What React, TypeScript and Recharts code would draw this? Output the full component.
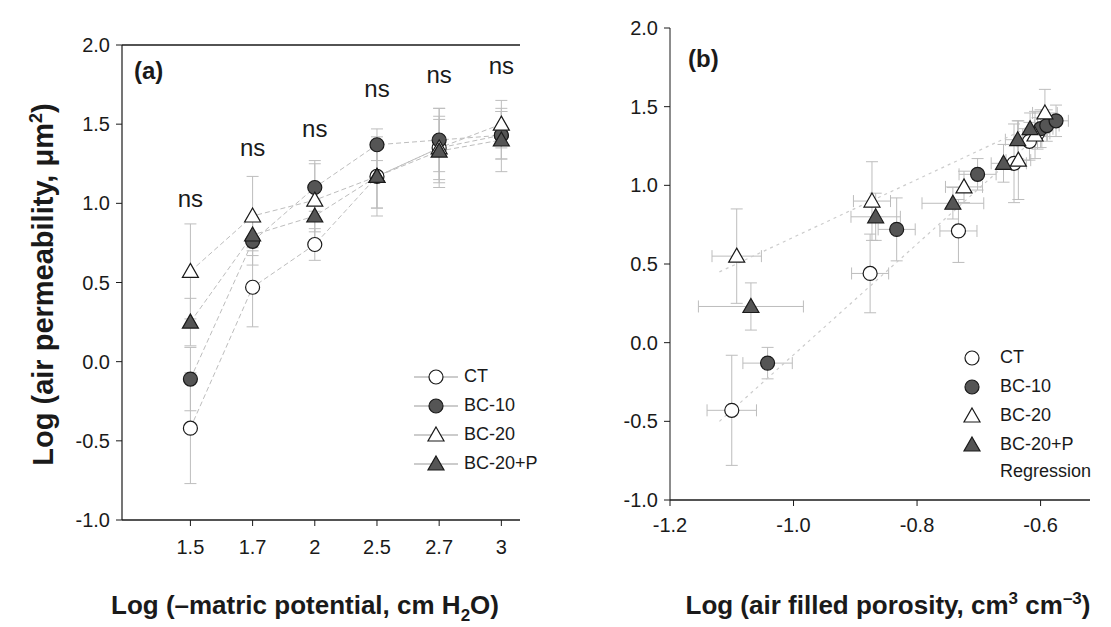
import React from 'react';
import {
  LineChart, Line, ScatterChart, Scatter, XAxis, YAxis, ErrorBar, Legend, ReferenceLine,
} from 'recharts';

// panel (a): air permeability vs matric potential
const potentialLabels = ['1.5', '1.7', '2', '2.5', '2.7', '3'];
const ctA = [-0.42, 0.47, 0.74, 1.17, 1.35, 1.43];
const bc10A = [-0.11, 0.76, 1.1, 1.37, 1.4, 1.43];
const bc20A = [0.57, 0.92, 1.02, 1.17, 1.35, 1.5];
const bc20pA = [0.25, 0.8, 0.92, 1.17, 1.33, 1.4];
const ctErrA = [0.35, 0.25, 0.1, 0.2, 0.2, 0.15];
const bc10ErrA = [0.2, 0.15, 0.15, 0.1, 0.2, 0.15];
const bc20ErrA = [0.3, 0.25, 0.25, 0.25, 0.25, 0.15];
const bc20pErrA = [0.15, 0.1, 0.1, 0.2, 0.2, 0.2];
const nsHeights = [0.98, 1.3, 1.42, 1.67, 1.76, 1.82];

// panel (b): air permeability vs air filled porosity
const ctX = [-1.1, -0.876, -0.733, -0.643, -0.618, -0.605];
const ctB = [-0.43, 0.44, 0.71, 1.14, 1.28, 1.33];
const ctErrB = [0.35, 0.25, 0.2, 0.25, 0.12, 0.1];
const bc10X = [-1.042, -0.833, -0.702, -0.6, -0.59, -0.575];
const bc10B = [-0.13, 0.72, 1.07, 1.36, 1.38, 1.41];
const bc10ErrB = [0.1, 0.2, 0.1, 0.12, 0.1, 0.1];
const bc20X = [-1.092, -0.873, -0.724, -0.636, -0.609, -0.593];
const bc20B = [0.55, 0.9, 0.99, 1.16, 1.32, 1.46];
const bc20ErrB = [0.3, 0.25, 0.1, 0.25, 0.15, 0.15];
const bc20pX = [-1.069, -0.867, -0.742, -0.66, -0.637, -0.617];
const bc20pB = [0.23, 0.8, 0.886, 1.14, 1.29, 1.36];
const bc20pErrB = [0.15, 0.15, 0.1, 0.12, 0.12, 0.1];
const xErrB = [0.04, 0.03, 0.03, 0.02, 0.02, 0.02];
const bc20pXErr = [0.085, 0.04, 0.05, 0.02, 0.02, 0.02];
const regX = [-1.12, -0.575];
const regY1 = [-0.5, 1.42];
const regY2 = [0.45, 1.45];

const yTicks = [-1, -0.5, 0, 0.5, 1, 1.5, 2];
const font = "'Liberation Sans', Arial, sans-serif";
const ink = '#1a1a1a';
const faint = '#bdbdbd';
const darkFill = '#555';

const rowsA = potentialLabels.map((label, i) => ({
  i, label,
  ct: ctA[i], bc10: bc10A[i], bc20: bc20A[i], bc20p: bc20pA[i],
  ctErr: ctErrA[i], bc10Err: bc10ErrA[i], bc20Err: bc20ErrA[i], bc20pErr: bc20pErrA[i],
  ns: nsHeights[i],
}));

const toRows = (xs: number[], ys: number[], ey: number[], ex: number[]) =>
  xs.map((x, i) => ({ x, y: ys[i], ey: ey[i], ex: ex[i] }));

const ctRowsB = toRows(ctX, ctB, ctErrB, xErrB);
const bc10RowsB = toRows(bc10X, bc10B, bc10ErrB, xErrB);
const bc20RowsB = toRows(bc20X, bc20B, bc20ErrB, xErrB);
const bc20pRowsB = toRows(bc20pX, bc20pB, bc20pErrB, bc20pXErr);
const reg1 = regX.map((x, i) => ({ x, y: regY1[i] }));
const reg2 = regX.map((x, i) => ({ x, y: regY2[i] }));

type Mark = 'circle' | 'triangle';

function marker(kind: Mark, fill: string, cx: number, cy: number, key?: string | number) {
  if (cx == null || cy == null) return <g key={key} />;
  if (kind === 'circle') {
    return <circle key={key} cx={cx} cy={cy} r={7} fill={fill} stroke={ink} strokeWidth={1.2} />;
  }
  return (
    <path
      key={key}
      d={`M${cx},${cy - 8}L${cx + 8},${cy + 6}L${cx - 8},${cy + 6}Z`}
      fill={fill}
      stroke={ink}
      strokeWidth={1.2}
    />
  );
}

const seriesStyle = [
  { name: 'CT', key: 'ct', kind: 'circle' as Mark, fill: '#fff' },
  { name: 'BC-10', key: 'bc10', kind: 'circle' as Mark, fill: darkFill },
  { name: 'BC-20', key: 'bc20', kind: 'triangle' as Mark, fill: '#fff' },
  { name: 'BC-20+P', key: 'bc20p', kind: 'triangle' as Mark, fill: darkFill },
];

function LegendA() {
  return (
    <div style={{ fontFamily: font, fontSize: 18, color: ink }}>
      {seriesStyle.map((s) => (
        <div key={s.key} style={{ display: 'flex', alignItems: 'center', height: 29 }}>
          <svg width={44} height={20}>
            <line x1={0} y1={10} x2={44} y2={10} stroke="#999" strokeWidth={1} />
            {marker(s.kind, s.fill, 22, 10)}
          </svg>
          <span style={{ marginLeft: 6 }}>{s.name}</span>
        </div>
      ))}
    </div>
  );
}

function LegendB() {
  return (
    <div style={{ fontFamily: font, fontSize: 18, color: ink }}>
      {seriesStyle.map((s) => (
        <div key={s.key} style={{ display: 'flex', alignItems: 'center', height: 29 }}>
          <svg width={24} height={20}>{marker(s.kind, s.fill, 12, 10)}</svg>
          <span style={{ marginLeft: 16 }}>{s.name}</span>
        </div>
      ))}
      <div style={{ height: 24, marginLeft: 40, lineHeight: '24px' }}>Regression</div>
    </div>
  );
}

function YTitle(props: any) {
  const { viewBox } = props;
  const x = viewBox.x + 33;
  const y = viewBox.y + viewBox.height / 2 + 2;
  return (
    <text x={x} y={y} transform={`rotate(-90 ${x} ${y})`} textAnchor="middle"
      fontFamily={font} fontSize={29} fontWeight="bold" fill={ink}>
      Log (air permeability, μm<tspan dy={-11} fontSize={18}>2</tspan><tspan dy={11}>)</tspan>
    </text>
  );
}

function XTitleA(props: any) {
  const { viewBox } = props;
  const x = viewBox.x + viewBox.width / 2 - 16;
  return (
    <text x={x} y={viewBox.y + 94} textAnchor="middle" fontFamily={font} fontSize={26}
      fontWeight="bold" fill={ink}>
      Log (–matric potential, cm H<tspan dy={7} fontSize={17}>2</tspan><tspan dy={-7}>O)</tspan>
    </text>
  );
}

function XTitleB(props: any) {
  const { viewBox } = props;
  const x = viewBox.x + viewBox.width / 2 + 8;
  return (
    <text x={x} y={viewBox.y + 114} textAnchor="middle" fontFamily={font} fontSize={26}
      fontWeight="bold" fill={ink}>
      Log (air filled porosity, cm<tspan dy={-10} fontSize={17}>3</tspan>
      <tspan dy={10}> cm</tspan><tspan dy={-10} fontSize={17}>–3</tspan><tspan dy={10}>)</tspan>
    </text>
  );
}

const tickStyle = { fill: ink, fontSize: 20, fontFamily: font };

export default function App() {
  return (
    <div style={{ position: 'absolute', left: 0, top: 0, width: 1111, height: 627, background: '#fff' }}>
      <div style={{ position: 'absolute', left: 0, top: 0 }}>
        <LineChart width={560} height={627} data={rowsA}
          margin={{ top: 45, right: 40, bottom: 27, left: 20 }}>
          <XAxis type="number" dataKey="i" domain={[-1.1, 5.3]} ticks={[0, 1, 2, 3, 4, 5]}
            tickFormatter={(v: number) => potentialLabels[v]} height={80}
            tick={tickStyle} tickLine={{ stroke: ink }} tickSize={6} tickMargin={14}
            axisLine={{ stroke: ink, strokeWidth: 1.5 }} label={<XTitleA />} />
          <YAxis type="number" domain={[-1, 2]} ticks={yTicks} width={102}
            tickFormatter={(v: number) => v.toFixed(1)} tick={tickStyle}
            tickLine={{ stroke: ink }} tickSize={6} tickMargin={6}
            axisLine={{ stroke: ink, strokeWidth: 1.2 }} label={<YTitle />} />
          <ReferenceLine y={2} stroke={ink} strokeWidth={1.5} />
          {seriesStyle.map((s) => (
            <Line key={s.key} dataKey={s.key} name={s.name} isAnimationActive={false}
              stroke={faint} strokeWidth={1} strokeDasharray="5 3"
              dot={(p: any) => marker(s.kind, s.fill, p.cx, p.cy, `${s.key}-${p.index}`)}
              activeDot={false}>
              <ErrorBar dataKey={`${s.key}Err`} stroke={faint} width={6} strokeWidth={1} />
            </Line>
          ))}
          <Line dataKey="ns" stroke="none" isAnimationActive={false} legendType="none" activeDot={false}
            dot={(p: any) => (
              <text key={`ns-${p.index}`} x={p.cx} y={p.cy} textAnchor="middle"
                fontFamily={font} fontSize={24} fill={ink}>ns</text>
            )} />
          <Legend layout="horizontal" verticalAlign="middle" content={() => <LegendA />}
            wrapperStyle={{ left: 414, top: 362, width: 140, height: 120 }} />
        </LineChart>
        <div style={{ position: 'absolute', left: 134, top: 57, fontFamily: font, fontSize: 24,
          fontWeight: 'bold', color: ink }}>(a)</div>
      </div>

      <div style={{ position: 'absolute', left: 560, top: 0 }}>
        <ScatterChart width={551} height={627} margin={{ top: 28, right: 21, bottom: 47, left: 20 }}>
          <XAxis type="number" dataKey="x" domain={[-1.2, -0.52]} ticks={[-1.2, -1.0, -0.8, -0.6]}
            tickFormatter={(v: number) => v.toFixed(1)} height={80} allowDataOverflow
            tick={tickStyle} tickLine={{ stroke: ink }} tickSize={6} tickMargin={12}
            axisLine={{ stroke: ink, strokeWidth: 1.5 }} label={<XTitleB />} />
          <YAxis type="number" dataKey="y" domain={[-1, 2]} ticks={yTicks} width={90}
            tickFormatter={(v: number) => v.toFixed(1)} tick={tickStyle}
            tickLine={{ stroke: ink }} tickSize={6} tickMargin={6}
            axisLine={{ stroke: ink, strokeWidth: 1 }} />
          <Scatter data={reg1} isAnimationActive={false} legendType="none"
            line={{ stroke: '#cccccc', strokeDasharray: '3 4', strokeWidth: 1.2 }} shape={() => <g />} />
          <Scatter data={reg2} isAnimationActive={false} legendType="none"
            line={{ stroke: '#cccccc', strokeDasharray: '3 4', strokeWidth: 1.2 }} shape={() => <g />} />
          {[ctRowsB, bc10RowsB, bc20RowsB, bc20pRowsB].map((rows, k) => {
            const s = seriesStyle[k];
            return (
              <Scatter key={s.key} name={s.name} data={rows} isAnimationActive={false}
                shape={(p: any) => marker(s.kind, s.fill, p.cx, p.cy)}>
                <ErrorBar dataKey="ey" direction="y" stroke={faint} width={6} strokeWidth={1} />
                <ErrorBar dataKey="ex" direction="x" stroke={faint} width={6} strokeWidth={1} />
              </Scatter>
            );
          })}
          <Legend layout="horizontal" verticalAlign="middle" content={() => <LegendB />}
            wrapperStyle={{ left: 400, top: 343, width: 150, height: 150 }} />
        </ScatterChart>
        <div style={{ position: 'absolute', left: 128, top: 45, fontFamily: font, fontSize: 24,
          fontWeight: 'bold', color: ink }}>(b)</div>
      </div>
    </div>
  );
}
